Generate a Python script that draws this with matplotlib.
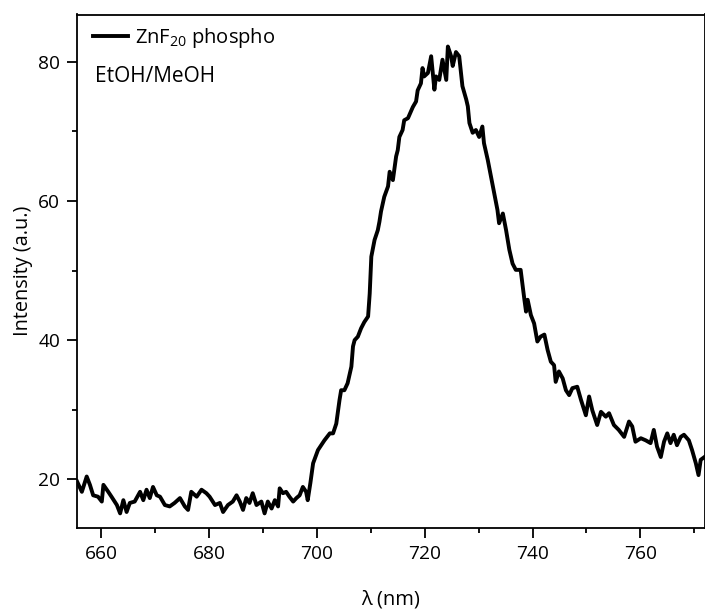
import matplotlib
matplotlib.use("Agg")
import matplotlib.pyplot as plt
from matplotlib.ticker import MultipleLocator

plt.rcParams['font.family'] = ['Open Sans', 'DejaVu Sans']
plt.rcParams['mathtext.fontset'] = 'custom'
plt.rcParams['mathtext.rm'] = 'Open Sans'
plt.rcParams['mathtext.it'] = 'Open Sans'

wavelength = [
    655.5, 656.4, 657.3, 657.9, 658.5, 659.4, 660.1, 660.4, 661.3, 661.9,
    662.9, 663.5, 664.1, 664.7, 665.3, 666.2, 667.2, 667.8, 668.4, 669.0,
    669.6, 670.3, 670.9, 671.8, 672.7, 673.6, 674.6, 675.5, 676.1, 676.7,
    677.7, 678.6, 679.5, 680.1, 681.1, 682.0, 682.6, 683.5, 684.4, 685.1,
    685.7, 686.3, 686.9, 687.5, 688.1, 688.8, 689.7, 690.3, 690.9, 691.6,
    692.2, 692.8, 693.1, 693.7, 694.3, 694.9, 695.6, 696.2, 696.8, 697.4,
    698.0, 698.3, 698.8, 699.3, 700.2, 700.8, 701.4, 702.4, 703.0, 703.6,
    704.2, 704.5, 705.1, 705.7, 706.4, 706.7, 707.0, 707.6, 708.2, 708.8,
    709.5, 709.8, 710.1, 710.7, 711.3, 711.6, 711.9, 712.5, 713.2, 713.5,
    714.1, 714.7, 715.0, 715.3, 715.9, 716.2, 716.9, 717.8, 718.4, 718.7,
    719.3, 719.6, 719.9, 720.6, 721.2, 721.8, 722.1, 722.7, 723.3, 724.0,
    724.3, 724.9, 725.2, 725.8, 726.4, 727.0, 727.7, 728.0, 728.3, 728.9,
    729.5, 730.1, 730.7, 731.0, 731.7, 732.3, 732.9, 733.5, 733.8, 734.5,
    735.1, 735.7, 736.3, 736.9, 737.8, 738.5, 738.8, 739.1, 739.7, 740.3,
    740.9, 741.5, 742.2, 742.8, 743.4, 744.0, 744.3, 744.9, 745.6, 746.2,
    746.8, 747.4, 748.3, 749.0, 749.9, 750.5, 751.1, 752.0, 752.7, 753.6,
    754.2, 755.1, 756.0, 757.0, 757.9, 758.5, 759.1, 760.1, 761.0, 761.9,
    762.5, 763.1, 763.8, 764.4, 765.0, 765.6, 766.2, 766.8, 767.5, 768.1,
    769.0, 769.6, 770.3, 770.8, 771.2, 771.9,
]

intensity = [
    19.7, 18.2, 20.4, 19.2, 17.7, 17.5, 16.8, 19.2, 18.2, 17.5,
    16.3, 15.1, 17.0, 15.3, 16.6, 16.8, 18.2, 17.0, 18.5, 17.3,
    18.9, 17.7, 17.5, 16.3, 16.1, 16.6, 17.3, 16.1, 15.6, 18.2,
    17.5, 18.5, 18.0, 17.5, 16.3, 16.6, 15.3, 16.3, 16.8, 17.7,
    16.8, 15.6, 17.3, 16.6, 18.0, 16.3, 16.8, 15.1, 16.8, 15.8,
    17.0, 16.1, 18.7, 18.0, 18.2, 17.5, 16.8, 17.3, 17.7, 18.9,
    18.2, 17.0, 19.5, 22.3, 24.2, 24.9, 25.6, 26.6, 26.6, 28.0,
    31.4, 32.8, 32.8, 33.8, 36.2, 39.1, 40.0, 40.5, 41.7, 42.6,
    43.4, 46.7, 52.0, 54.4, 55.8, 57.0, 58.5, 60.6, 62.1, 64.2,
    63.0, 66.4, 67.3, 69.2, 70.2, 71.6, 71.9, 73.5, 74.3, 75.9,
    76.9, 79.1, 77.9, 78.4, 80.8, 76.0, 77.9, 77.4, 80.3, 77.4,
    82.2, 80.8, 79.4, 81.4, 80.8, 76.5, 74.6, 73.6, 71.2, 69.8,
    70.2, 69.2, 70.7, 68.3, 65.9, 63.5, 61.1, 58.7, 56.8, 58.2,
    55.8, 53.0, 51.0, 50.1, 50.1, 45.8, 44.1, 45.8, 43.6, 42.4,
    39.8, 40.5, 40.8, 38.6, 36.9, 36.4, 34.0, 35.5, 34.5, 32.8,
    32.1, 33.1, 33.3, 31.4, 29.2, 31.9, 29.9, 27.8, 29.7, 29.0,
    29.5, 27.8, 27.1, 26.1, 28.3, 27.6, 25.4, 25.9, 25.6, 25.2,
    27.1, 24.7, 23.2, 25.4, 26.6, 25.2, 26.4, 24.9, 26.1, 26.4,
    25.6, 24.2, 22.3, 20.6, 22.8, 23.2,
]

series_label = "ZnF$_{20}$ phospho"
solvent_label = "EtOH/MeOH"
x_label = "λ (nm)"
y_label = "Intensity (a.u.)"

W, H = 705, 610
fig = plt.figure(figsize=(W / 100, H / 100), dpi=100)
ax = fig.add_axes([77 / W, 1 - 528 / H, 1 - 77 / W, (528 - 14.5) / H])

ax.plot(wavelength, intensity, color='black', lw=2.8, solid_joinstyle='round',
        label=series_label)

ax.set_xlim(655.5, 772)
ax.set_ylim(13.0, 86.8)
ax.xaxis.set_major_locator(MultipleLocator(20))
ax.xaxis.set_minor_locator(MultipleLocator(10))
ax.yaxis.set_major_locator(MultipleLocator(20))
ax.yaxis.set_minor_locator(MultipleLocator(10))
ax.tick_params(which='major', direction='out', length=7, width=1.3, labelsize=13.8, pad=5)
ax.tick_params(which='minor', direction='out', length=3.5, width=1.3)
ax.tick_params(top=False, right=False)
for s in ['left', 'bottom', 'top', 'right']:
    ax.spines[s].set_linewidth(1.3)

ax.set_xlabel(x_label, fontsize=14.5, labelpad=19)
ax.set_ylabel(y_label, fontsize=14.3, labelpad=4)

ax.legend(loc='upper left', frameon=False, fontsize=14.5, handlelength=1.75,
          handletextpad=0.35, borderaxespad=0.0, bbox_to_anchor=(8 / 628, 0.993))
fig.text(95 / W, 1 - 76 / H, solvent_label, fontsize=15, va='center', ha='left')

fig.savefig("out.png", dpi=100)
